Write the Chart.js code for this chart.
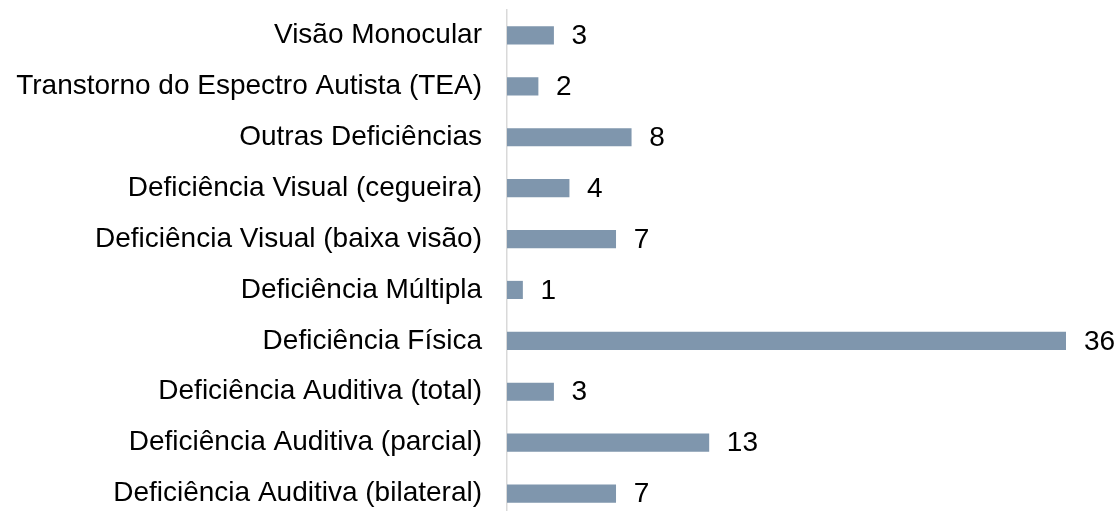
<!DOCTYPE html>
<html>
<head>
<meta charset="utf-8">
<script src="https://cdn.jsdelivr.net/npm/chart.js@4"></script>
<style>
    html, body { margin: 0; padding: 0; background: #fff; overflow: hidden; }
    #wrap { width: 1119px; height: 520px; }
</style>
</head>
<body>
<div id="wrap"><canvas id="myBarChart"></canvas></div>
<script>
// categories, top to bottom
let categories = [
    'Visão Monocular',
    'Transtorno do Espectro Autista (TEA)',
    'Outras Deficiências',
    'Deficiência Visual (cegueira)',
    'Deficiência Visual (baixa visão)',
    'Deficiência Múltipla',
    'Deficiência Física',
    'Deficiência Auditiva (total)',
    'Deficiência Auditiva (parcial)',
    'Deficiência Auditiva (bilateral)'
];
let counts = [3, 2, 8, 4, 7, 1, 36, 3, 13, 7];

let fontFamily = '"Liberation Sans", Arial, sans-serif';

// draws the number to the right of each bar
let valueLabels = {
    id: 'valueLabels',
    afterDatasetsDraw(chart) {
        let ctx = chart.ctx;
        let meta = chart.getDatasetMeta(0);
        ctx.save();
        ctx.font = '28px ' + fontFamily;
        ctx.fillStyle = '#000';
        ctx.textAlign = 'left';
        ctx.textBaseline = 'middle';
        meta.data.forEach((bar, i) => {
            ctx.fillText(String(counts[i]), bar.x + 18, bar.y + 1);
        });
        ctx.restore();
    }
};

let ctx = document.getElementById('myBarChart').getContext('2d');
let myBarChart = new Chart(ctx, {
    type: 'bar',
    data: {
        labels: categories,
        datasets: [{
            data: counts,
            backgroundColor: '#7f96ad',
            barThickness: 17.5
        }]
    },
    options: {
        indexAxis: 'y',
        responsive: true,
        maintainAspectRatio: false,
        animation: false,
        layout: { padding: { top: 10, right: 53, bottom: 1, left: 0 } },
        plugins: {
            legend: { display: false },
            tooltip: { enabled: false }
        },
        scales: {
            x: {
                display: false,
                min: 0,
                max: 36
            },
            y: {
                // fixed label column, no extra padding above/below
                afterFit(scale) {
                    scale.width = 507;
                    scale.paddingTop = 0;
                    scale.paddingBottom = 0;
                },
                grid: { display: false, drawTicks: false },
                border: { display: true, color: '#d9d9d9', width: 1.5 },
                ticks: {
                    padding: 25,
                    color: '#000',
                    font: { family: fontFamily, size: 28 }
                }
            }
        }
    },
    plugins: [valueLabels]
});
</script>
</body>
</html>
